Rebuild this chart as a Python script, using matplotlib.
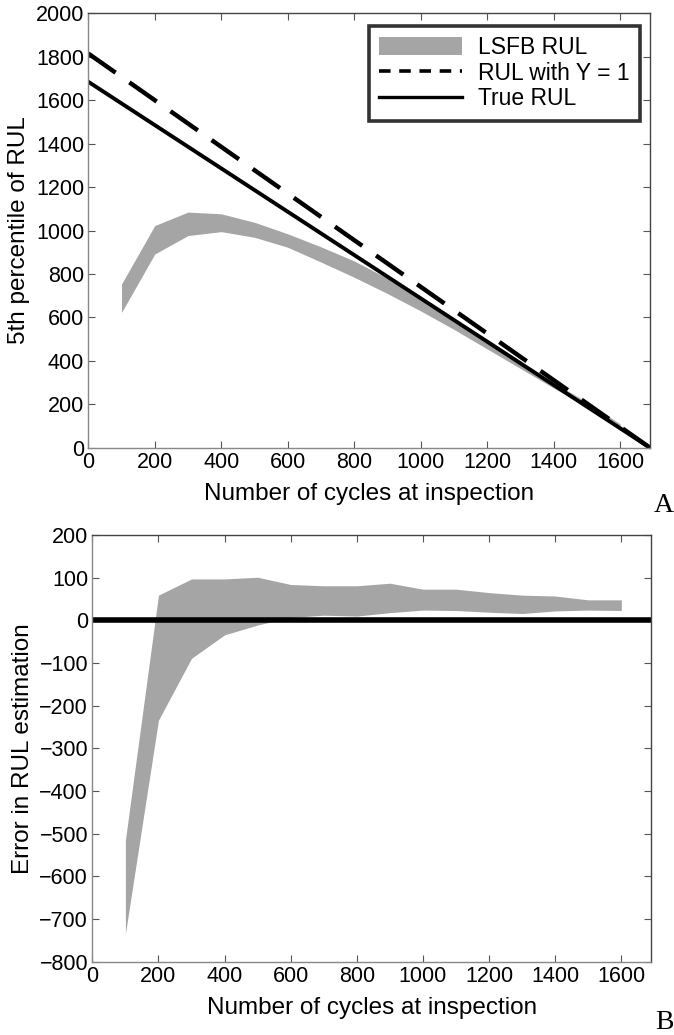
import matplotlib
matplotlib.use("Agg")
import matplotlib.pyplot as plt
from matplotlib.patches import Patch
from matplotlib.lines import Line2D

plt.rcParams['font.family'] = ['Liberation Sans', 'DejaVu Sans']

# ---- data ----
cycles_band = [100, 200, 300, 400, 500, 600, 700, 800, 900, 1000, 1100, 1200, 1300, 1400, 1500, 1600]
lsfb_upper = [754, 1023, 1085, 1077, 1038, 985, 925, 860, 780, 690, 595, 500, 400, 300, 210, 110]
lsfb_lower = [623, 892, 977, 995, 969, 923, 855, 785, 710, 630, 545, 455, 365, 275, 190, 95]

line_x = [0, 1690]
rul_y1 = [1815, 0]
true_rul = [1685, 0]

err_upper = [-515, 59, 97, 97, 101, 84, 81, 81, 87, 73, 73, 65, 59, 57, 48, 48]
err_lower = [-734, -234, -89, -34, -11, 7, 12, 10, 18, 24, 23, 19, 16, 22, 24, 23]
zero_x = [0, 1690]
zero_y = [0, 0]

xticks = [0, 200, 400, 600, 800, 1000, 1200, 1400, 1600]
yticks_a = [0, 200, 400, 600, 800, 1000, 1200, 1400, 1600, 1800, 2000]
yticks_b = [-800, -700, -600, -500, -400, -300, -200, -100, 0, 100, 200]

GRAY = '#a5a5a5'
TFS = 15.5
LFS = 17.5

fig = plt.figure(figsize=(6.74, 10.35), dpi=100)
axA = fig.add_axes([0.131, 0.5674, 0.8334, 0.4197])
axB = fig.add_axes([0.137, 0.0708, 0.829, 0.4123])


def style(ax):
    ax.tick_params(direction='in', length=5, width=0.8, top=True, right=True,
                   labelsize=TFS, color='#555555', pad=3)
    for s in ['left', 'bottom']:
        ax.spines[s].set_color('#888888')
    for s in ['top', 'right']:
        ax.spines[s].set_color('#444444')
    for s in ax.spines.values():
        s.set_linewidth(1.0)


# ---- panel A ----
axA.fill_between(cycles_band, lsfb_lower, lsfb_upper, color=GRAY, linewidth=0)
axA.plot(line_x, rul_y1, color='black', linewidth=3.2, linestyle=(0, (7.5, 3.8)))
axA.plot(line_x, true_rul, color='black', linewidth=2.8)
axA.set_xlim(0, 1690)
axA.set_ylim(0, 2000)
axA.set_xticks(xticks)
axA.set_yticks(yticks_a)
axA.set_xlabel('Number of cycles at inspection', fontsize=LFS, labelpad=7)
axA.set_ylabel('5th percentile of RUL', fontsize=LFS, labelpad=4)
style(axA)

handles = [Patch(facecolor=GRAY, edgecolor='none'),
           Line2D([], [], color='black', linewidth=2.6, linestyle=(0, (3.2, 2.4))),
           Line2D([], [], color='black', linewidth=2.4)]
leg = axA.legend(handles, ['LSFB RUL', 'RUL with Y = 1', 'True RUL'],
                 loc='upper right', bbox_to_anchor=(0.982, 0.972), fontsize=16.5,
                 frameon=True, fancybox=False, handlelength=3.6, handleheight=0.8,
                 borderpad=0.45, labelspacing=0.12, handletextpad=0.7,
                 borderaxespad=0.0)
leg.get_frame().set_edgecolor('black')
leg.get_frame().set_linewidth(2.6)

fig.text(0.999, 0.512, 'A', fontsize=20, family='Liberation Serif', ha='right', va='center')

# ---- panel B ----
axB.fill_between(cycles_band, err_lower, err_upper, color=GRAY, linewidth=0)
axB.plot(zero_x, zero_y, color='black', linewidth=4.0)
axB.set_xlim(0, 1690)
axB.set_ylim(-800, 200)
axB.set_xticks(xticks)
axB.set_yticks(yticks_b)
axB.set_xlabel('Number of cycles at inspection', fontsize=LFS, labelpad=7)
axB.set_ylabel('Error in RUL estimation', fontsize=LFS, labelpad=4)
style(axB)

fig.text(0.999, 0.012, 'B', fontsize=20, family='Liberation Serif', ha='right', va='center')

fig.savefig('out.png', dpi=100)
